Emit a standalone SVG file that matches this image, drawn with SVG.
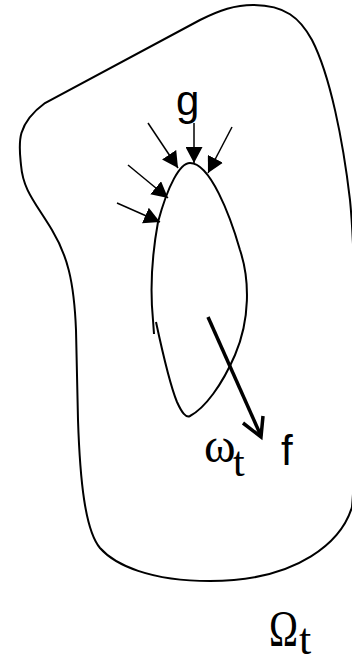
<svg xmlns="http://www.w3.org/2000/svg" width="352" height="658" viewBox="0 0 352 658">
<style>
.curve{fill:none;stroke:#000;stroke-width:2}
.arr{fill:none;stroke:#000;stroke-width:1.5;marker-end:url(#head)}
.sans{font-family:"Liberation Sans",Arial,sans-serif;fill:#000}
.serif{font-family:"Liberation Serif","Times New Roman",serif;fill:#000}
</style>
<defs>
<marker id="head" markerUnits="userSpaceOnUse" markerWidth="16" markerHeight="17" refX="16" refY="8.5" orient="auto">
<path d="M0,0 L16,8.5 L0,17 Z" fill="#000"/>
</marker>
</defs>
<rect width="352" height="658" fill="#fff"/>
<g id="outer-domain">
<path class="curve" d="M253,5 C285,5 300,18 312,40 C330,75 343,140 350,200 C356,260 358,440 352,507 C342,540 300,581 210,581 C150,581 115,565 100,548 C85,530 80,480 78,420 L76,330 C74,280 67,255 52,230 C35,202 23,190 21,165 C19,145 15,125 45,103 L200,20 C220,10 235,5 253,5 Z"/>
</g>
<g id="inner-domain">
<path class="curve" d="M156,322 C162,350 170,385 177,402 C182,413 186,418 190,416 C205,408 222,385 235,355 C250,320 250,280 240,250 C230,215 210,163 190,163 C180,163 168,185 158,222 C152,255 150,290 153,320 L154,334"/>
</g>
<g id="connectors">
<line class="arr" x1="194" y1="123" x2="194" y2="163"/>
<line class="arr" x1="148" y1="123" x2="178" y2="168"/>
<line class="arr" x1="232" y1="127" x2="208" y2="173"/>
<line class="arr" x1="128" y1="165" x2="168" y2="198"/>
<line class="arr" x1="117" y1="203" x2="160" y2="222"/>
<g id="force-f">
<line x1="208" y1="317" x2="261" y2="436" stroke="#000" stroke-width="3.5"/>
<polyline points="243,423 261,437 263,416" fill="none" stroke="#000" stroke-width="3.5"/>
</g>
</g>
<g id="label-g"><text class="sans" x="176" y="115" font-size="42">g</text></g>
<g id="label-omega"><text class="serif" x="204" y="462" font-size="48">ω<tspan x="233" y="476" font-size="42">t</tspan></text></g>
<g id="label-f"><text class="sans" x="281" y="465" font-size="42">f</text></g>
<g id="label-Omega"><text class="serif" x="269" y="645" font-size="50"><tspan textLength="29" lengthAdjust="spacingAndGlyphs">Ω</tspan><tspan x="299" y="654" font-size="44">t</tspan></text></g>
</svg>
